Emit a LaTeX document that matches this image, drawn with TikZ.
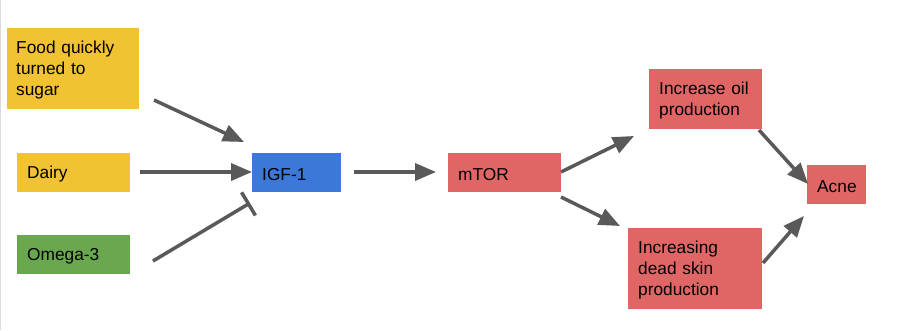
\documentclass[tikz,border=0pt]{standalone}
\usepackage{fontspec}
\setmainfont{Liberation Sans}
\usetikzlibrary{arrows.meta}
\definecolor{cyellow}{HTML}{F1C232}
\definecolor{cblue}{HTML}{3C78D8}
\definecolor{cgreen}{HTML}{6AA84F}
\definecolor{cred}{HTML}{E06666}
\definecolor{carrow}{HTML}{595959}
\definecolor{cedge}{HTML}{DADADA}
\newcommand{\tstrut}{\rule{0pt}{16pt}}
\tikzset{
  box/.style={rectangle, anchor=north west, inner xsep=10pt, inner ysep=0pt,
    align=left, font=\fontsize{17.3}{21}\selectfont, text=black},
  conn/.style={draw=carrow, line width=3.5pt,
    -{Triangle[length=21pt,width=17pt]}},
  inhib/.style={draw=carrow, line width=3.5pt,
    -{Bar[width=27pt,line width=3.5pt]}}
}
\begin{document}
\begin{tikzpicture}[x=1pt,y=-1pt]
\useasboundingbox (0,0) rectangle (897,330);
\draw[cedge, line width=1.2pt] (0.8,0) -- (0.8,330);
% boxes: (left,top), width, height
\node[box, fill=cyellow, text width=114pt, minimum height=81pt, inner xsep=9pt] (food) at (7,28) {\tstrut Food quickly\\turned to\\sugar};
\node[box, fill=cyellow, text width=93pt, minimum height=39pt] (dairy) at (17,153) {\tstrut Dairy};
\node[box, fill=cgreen, text width=93pt, minimum height=39pt] (omega) at (17,235) {\tstrut Omega-3};
\node[box, fill=cblue, text width=69pt, minimum height=39pt] (igf) at (252,153) {\tstrut IGF-1};
\node[box, fill=cred, text width=93pt, minimum height=39pt] (mtor) at (448,153) {\tstrut mTOR};
\node[box, fill=cred, text width=93pt, minimum height=60pt] (oil) at (649,69) {\tstrut Increase oil\\production};
\node[box, fill=cred, text width=114pt, minimum height=81pt] (dead) at (628,228) {\tstrut Increasing\\dead skin\\production};
\node[box, fill=cred, text width=39pt, minimum height=39pt] (acne) at (807,165) {\tstrut Acne};
% connector ends
\coordinate (foodS) at (154,100);  \coordinate (foodE) at (244,142);
\coordinate (dairyS) at (140,172); \coordinate (dairyE) at (252,172);
\coordinate (omegaS) at (153,261); \coordinate (omegaE) at (250,203);
\coordinate (igfS) at (354,172);   \coordinate (igfE) at (436,172);
\coordinate (mtorS1) at (561,172); \coordinate (mtorE1) at (634,136);
\coordinate (mtorS2) at (561,197); \coordinate (mtorE2) at (620,226);
\coordinate (oilS) at (759,130);   \coordinate (oilE) at (808,184);
\coordinate (deadS) at (763,263);  \coordinate (deadE) at (804,216);
\draw[conn] (foodS) -- (foodE);
\draw[conn] (dairyS) -- (dairyE);
\draw[inhib] (omegaS) -- (omegaE);
\draw[conn] (igfS) -- (igfE);
\draw[conn] (mtorS1) -- (mtorE1);
\draw[conn] (mtorS2) -- (mtorE2);
\draw[conn] (oilS) -- (oilE);
\draw[conn] (deadS) -- (deadE);
\end{tikzpicture}
\end{document}
